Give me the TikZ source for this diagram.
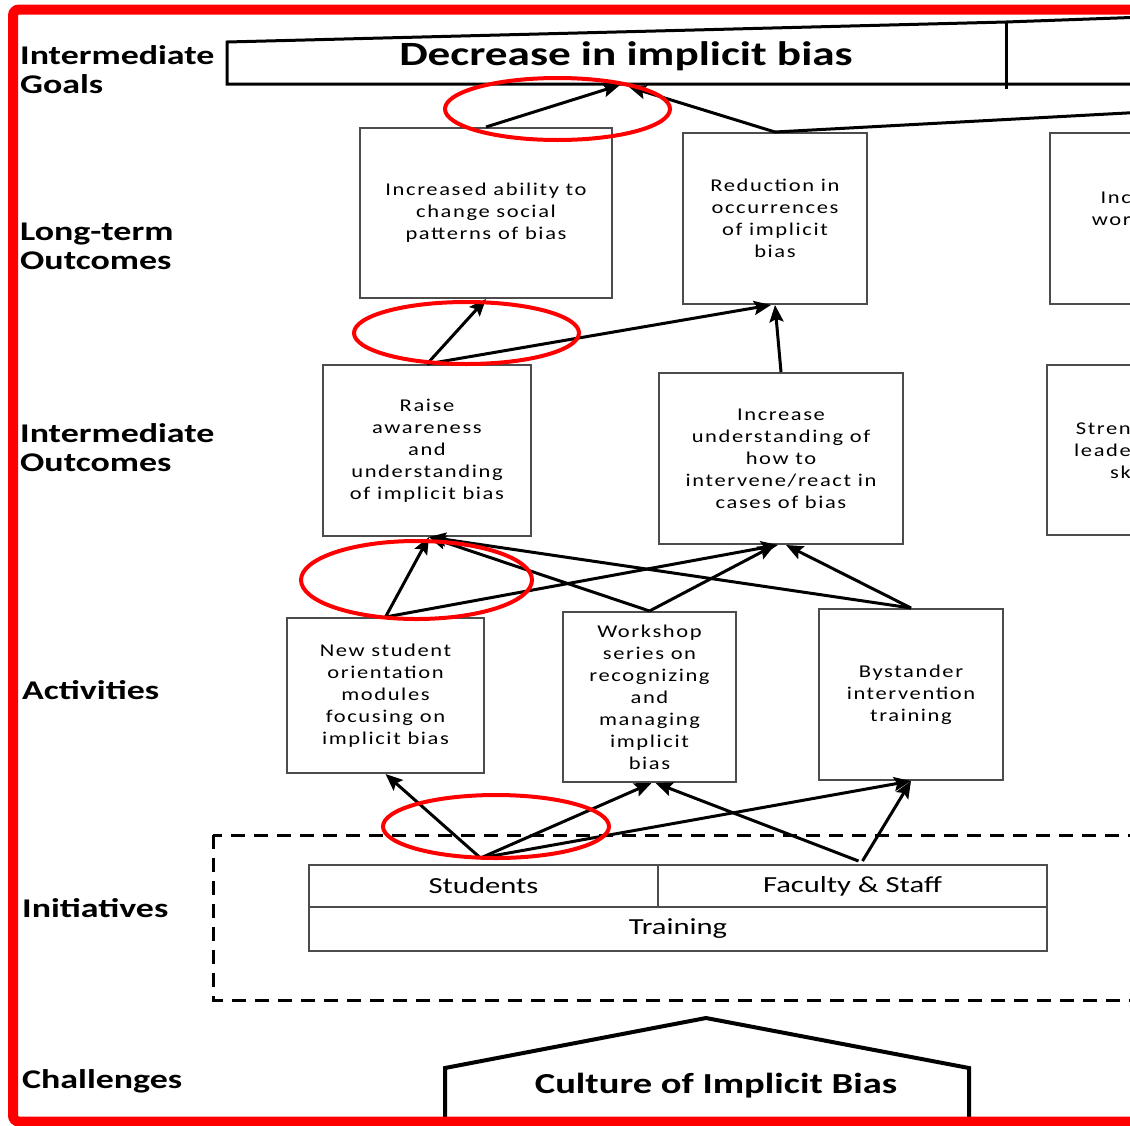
\documentclass[tikz,border=0pt]{standalone}
\usepackage{fontspec}
\setmainfont{Carlito}[FakeStretch=1.33]
\newfontfamily\boxfont{Carlito}[FakeStretch=1.25,LetterSpace=9]
\usetikzlibrary{arrows.meta}

\tikzset{
  rowlabel/.style={anchor=west, align=left, inner sep=0pt, font=\bfseries\fontsize{27}{29}\selectfont},
  outbox/.style={draw=black!70, line width=2pt, align=center, inner sep=0pt, font=\boxfont\fontsize{18}{22}\selectfont},
  cutbox/.style={draw=black!70, line width=2pt, inner sep=0pt},
  cuttext/.style={anchor=east, align=right, inner sep=0pt, font=\boxfont\fontsize{18}{22}\selectfont},
  cell/.style={draw=black!70, line width=2pt, inner sep=0pt, font=\fontsize{23}{26}\selectfont},
  link/.style={line width=3pt, -{Stealth[length=17pt,width=14pt,inset=3pt]}},
  hilite/.style={draw=red, line width=4pt},
}

\begin{document}
\begin{tikzpicture}[x=1pt,y=-1pt]
\useasboundingbox (0,0) rectangle (1130,1125);

% row labels on the left
\node (lgoal) [rowlabel] at (20,70) {Intermediate\\Goals};
\node (llong) [rowlabel] at (20,246) {Long-term\\Outcomes};
\node (lmid) [rowlabel] at (20,448) {Intermediate\\Outcomes};
\node (lact) [rowlabel] at (22,690) {Activities};
\node (linit) [rowlabel] at (22,908) {Initiatives};
\node (lchal) [rowlabel] at (22,1081) {Challenges};

% goal banner
\draw[line width=3pt] (1145,84) -- (227,84) -- (227,42) -- (1006,22) -- (1145,17);
\draw[line width=3pt] (1006,22) -- (1006,89);
\node (goal) [font=\bfseries\fontsize{34}{40}\selectfont] at (626,56) {Decrease in implicit bias};
\coordinate (goalL) at (620,85);
\coordinate (goalR) at (629,87);
\coordinate (goalE) at (1145,112);

% long-term outcomes
\node (lt1) [outbox, minimum width=252pt, minimum height=170pt] at (486,213) {Increased ability to\\change social\\patterns of bias};
\node (lt2) [outbox, minimum width=184pt, minimum height=171pt] at (775,218.5) {Reduction in\\occurrences\\of implicit\\bias};
\node (lt3) [cutbox, minimum width=100pt, minimum height=171pt] at (1100,218.5) {};
\node (lt3txt) [cuttext] at (1131,208.5) {Inc\\wor};

% intermediate outcomes
\node (io1) [outbox, minimum width=208pt, minimum height=171pt] at (427,450.5) {Raise\\awareness\\and\\understanding\\of implicit bias};
\node (io2) [outbox, minimum width=244pt, minimum height=171pt] at (781,458.5) {Increase\\understanding of\\how to\\intervene/react in\\cases of bias};
\node (io3) [cutbox, minimum width=100pt, minimum height=170pt] at (1097,450) {};
\node (io3txt) [cuttext] at (1131,450.5) {Stren\\leade\\sk};

% activities
\node (act1) [outbox, minimum width=197pt, minimum height=155pt] at (385.5,695.5) {New student\\orientation\\modules\\focusing on\\implicit bias};
\node (act2) [outbox, minimum width=173pt, minimum height=170pt] at (649.5,697) {Workshop\\series on\\recognizing\\and\\managing\\implicit\\bias};
\node (act3) [outbox, minimum width=184pt, minimum height=171pt] at (911,694.5) {Bystander\\intervention\\training};

% initiatives
\draw[line width=3pt, dash pattern=on 14pt off 9pt] (213,835) rectangle (1145,1000);
\node (stu) [cell, minimum width=349pt, minimum height=42pt] at (483.5,886) {Students};
\node (fac) [cell, minimum width=389pt, minimum height=42pt] at (852.5,886) {Faculty \& Staff};
\node (trn) [cell, minimum width=738pt, minimum height=44pt] at (678,929) {Training};

% challenges
\draw[line width=4pt] (445,1126) -- (445,1068) -- (706,1018) -- (969,1068) -- (969,1126);
\node (chal) [font=\bfseries\fontsize{29}{34}\selectfont] at (716,1086) {Culture of Implicit Bias};

% arrows
\draw[link] (lt1.north) -- (goalL);
\draw[link] (lt2.north) -- (goalR);
\draw[line width=3pt] (lt2.north) -- (goalE);
\draw[link] (io1.north) -- (lt1.south);
\draw[link] (io1.north) -- ([xshift=-4pt]lt2.south);
\draw[link] (io2.north) -- (lt2.south);
\draw[link] (act1.north) -- ([xshift=2pt]io1.south);
\draw[link] (act1.north) -- ([xshift=-3pt]io2.south);
\draw[link] (act2.north) -- ([xshift=2pt]io1.south);
\draw[link] (act2.north) -- ([xshift=-6pt]io2.south);
\draw[link] (act3.north) -- ([xshift=2pt]io1.south);
\draw[link] (act3.north) -- ([xshift=5pt]io2.south);
\draw[link] ([shift={(-3,-6)}]stu.north) -- (act1.south);
\draw[link] ([shift={(-3,-6)}]stu.north) -- ([xshift=2pt]act2.south);
\draw[link] ([shift={(-3,-6)}]stu.north) -- (act3.south);
\draw[link] ([shift={(6,-3)}]fac.north) -- ([xshift=6pt]act2.south);
\draw[link] ([shift={(10,-3)}]fac.north) -- (act3.south);

% red highlights
\draw[hilite] (557.5,109) ellipse [x radius=112.5, y radius=31];
\draw[hilite] (466.5,333) ellipse [x radius=112.5, y radius=31];
\draw[hilite] (416.5,580) ellipse [x radius=115.5, y radius=39];
\draw[hilite] (496,826.5) ellipse [x radius=113, y radius=31.5];

% red frame
\draw[red, line width=10pt, rounded corners=6pt] (13,9.5) rectangle (1150,1121.5);
\end{tikzpicture}
\end{document}
